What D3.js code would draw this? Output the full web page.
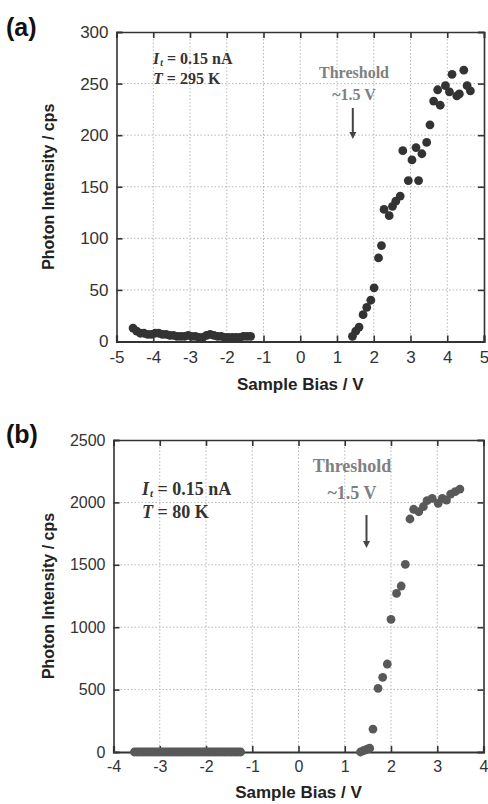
<!DOCTYPE html>
<html>
<head>
<meta charset="utf-8">
<script src="https://cdnjs.cloudflare.com/ajax/libs/d3/7.8.5/d3.min.js"></script>
<style>
body{margin:0;background:#fff;}
</style>
</head>
<body>
<script>
const w=488;
const h=804;

// panel (a) data, T = 295 K
const biasA_neg=[-4.55,-4.45,-4.35,-4.25,-4.15,-4.05,-3.95,-3.85,-3.75,-3.65,-3.55,-3.45,-3.35,-3.25,-3.15,-3.05,-2.95,-2.85,-2.75,-2.65,-2.55,-2.45,-2.35,-2.25,-2.15,-2.05,-1.95,-1.85,-1.75,-1.65,-1.55,-1.45,-1.35];
const countsA_neg=[13,10,8,8,7,7,8,8,7,7,6,6,5,5,5,6,5,5,4,4,6,7,6,5,5,4,4,4,4,4,5,5,5];
const biasA_pos=[1.42,1.51,1.60,1.71,1.81,1.92,2.01,2.13,2.21,2.28,2.42,2.51,2.60,2.72,2.79,2.94,3.04,3.15,3.22,3.31,3.44,3.53,3.63,3.74,3.81,3.95,4.06,4.13,4.26,4.33,4.45,4.54,4.63];
const countsA_pos=[5,10,14,26,33,40,52,81,93,128,122,131,136,141,185,156,176,188,156,182,193,210,233,244,229,248,242,259,238,240,263,248,243];

// panel (b) data, T = 80 K
const biasB_neg=[-3.55,-3.50,-3.45,-3.40,-3.35,-3.30,-3.25,-3.20,-3.15,-3.10,-3.05,-3.00,-2.95,-2.90,-2.85,-2.80,-2.75,-2.70,-2.65,-2.60,-2.55,-2.50,-2.45,-2.40,-2.35,-2.30,-2.25,-2.20,-2.15,-2.10,-2.05,-2.00,-1.95,-1.90,-1.85,-1.80,-1.75,-1.70,-1.65,-1.60,-1.55,-1.50,-1.45,-1.40,-1.35,-1.30,-1.25];
const countsB_neg=[0,0,0,0,0,0,0,0,0,0,0,0,0,0,0,0,0,0,0,0,0,0,0,0,0,0,0,0,0,0,0,0,0,0,0,0,0,0,0,0,0,0,0,0,0,0,0];
const biasB_pos=[1.34,1.40,1.45,1.50,1.54,1.61,1.72,1.82,1.92,2.00,2.12,2.22,2.31,2.41,2.49,2.60,2.70,2.78,2.89,3.02,3.11,3.20,3.29,3.39,3.49];
const countsB_pos=[0,10,16,25,30,184,510,598,705,1063,1271,1330,1504,1867,1945,1925,1966,2014,2033,1993,2033,2019,2067,2086,2107];

const ticksA_x=[-5,-4,-3,-2,-1,0,1,2,3,4,5];
const ticksA_y=[0,50,100,150,200,250,300];
const ticksB_x=[-4,-3,-2,-1,0,1,2,3,4];
const ticksB_y=[0,500,1000,1500,2000,2500];

let svg=d3.select("body")
  .append("svg")
  .attr("width",w)
  .attr("height",h);

function zip(xs,ys){ return xs.map((x,i)=>({v:x,c:ys[i]})); }

function drawPanel(p){
  let x=d3.scaleLinear().domain(p.xDomain).range([p.left,p.right]);
  let y=d3.scaleLinear().domain(p.yDomain).range([p.bottom,p.top]);
  let g=svg.append("g");

  // dotted grid
  g.append("g")
    .selectAll("line.gx")
    .data(p.xTicks.slice(1,-1))
    .enter().append("line")
    .attr("x1",d=>x(d)).attr("x2",d=>x(d))
    .attr("y1",p.top).attr("y2",p.bottom)
    .attr("stroke","#b8b8b8").attr("stroke-width",1)
    .attr("stroke-dasharray","1.5,2");
  g.append("g")
    .selectAll("line.gy")
    .data(p.yTicks.slice(1,-1))
    .enter().append("line")
    .attr("y1",d=>y(d)).attr("y2",d=>y(d))
    .attr("x1",p.left).attr("x2",p.right)
    .attr("stroke","#b8b8b8").attr("stroke-width",1)
    .attr("stroke-dasharray","1.5,2");

  // axes with inward ticks on all four sides
  let fmt=d=>String(d);
  let bottom=g.append("g").attr("transform","translate(0,"+p.bottom+")")
    .call(d3.axisBottom(x).tickValues(p.xTicks).tickSize(-6).tickPadding(6).tickFormat(fmt));
  let left=g.append("g").attr("transform","translate("+p.left+",0)")
    .call(d3.axisLeft(y).tickValues(p.yTicks).tickSize(-6).tickPadding(8).tickFormat(fmt));
  let top=g.append("g").attr("transform","translate(0,"+p.top+")")
    .call(d3.axisTop(x).tickValues(p.xTicks).tickSize(-6).tickFormat(""));
  let right=g.append("g").attr("transform","translate("+p.right+",0)")
    .call(d3.axisRight(y).tickValues(p.yTicks).tickSize(-6).tickFormat(""));

  [bottom,left,top,right].forEach(a=>{
    a.select(".domain").attr("stroke","#333").attr("stroke-width",1.6);
    a.selectAll(".tick line").attr("stroke","#333").attr("stroke-width",1.6);
    a.selectAll(".tick text")
      .attr("fill","#333")
      .style("font-family","'Liberation Sans', Arial, sans-serif")
      .style("font-size",p.tickFont+"px");
  });
  bottom.select(".domain").attr("stroke-width",2.2);
  bottom.selectAll(".tick text").attr("dy","0.9em");

  // data points
  g.append("g")
    .selectAll("circle")
    .data(zip(p.negX,p.negY).concat(zip(p.posX,p.posY)))
    .enter().append("circle")
    .attr("cx",d=>x(d.v))
    .attr("cy",d=>y(d.c))
    .attr("r",4.4)
    .style("fill",p.dotColor);

  // axis titles
  g.append("text")
    .attr("x",(p.left+p.right)/2).attr("y",p.xTitleY)
    .attr("text-anchor","middle")
    .style("font-family","'Liberation Sans', Arial, sans-serif")
    .style("font-weight","bold").style("font-size","17px")
    .attr("fill","#222")
    .text("Sample Bias / V");
  g.append("text")
    .attr("transform","translate(54,"+((p.top+p.bottom)/2)+") rotate(-90)")
    .attr("text-anchor","middle")
    .style("font-family","'Liberation Sans', Arial, sans-serif")
    .style("font-weight","bold").style("font-size","16px")
    .attr("fill","#222")
    .text("Photon Intensity / cps");

  // panel label
  g.append("text")
    .attr("x",6).attr("y",p.labelY)
    .style("font-family","'Liberation Sans', Arial, sans-serif")
    .style("font-weight","bold").style("font-size","25px")
    .attr("fill","#111")
    .text(p.label);

  // conditions
  let serif="'Liberation Serif', 'Times New Roman', serif";
  let t1=g.append("text")
    .attr("x",p.condX).attr("y",p.condY)
    .style("font-family",serif).style("font-weight","bold")
    .style("font-size",p.condFont+"px").attr("fill","#333");
  t1.append("tspan").style("font-style","italic").text("I");
  t1.append("tspan").style("font-style","italic").style("font-size",(p.condFont*0.6)+"px").attr("dx",1).attr("dy",2).text("t");
  t1.append("tspan").attr("dy",-2).text(" = 0.15 nA");
  let t2=g.append("text")
    .attr("x",p.condX).attr("y",p.condY+p.condGap)
    .style("font-family",serif).style("font-weight","bold")
    .style("font-size",p.condFont+"px").attr("fill","#333");
  t2.append("tspan").style("font-style","italic").text("T");
  t2.append("tspan").text(" = "+p.temp);

  // threshold annotation
  g.append("text")
    .attr("x",p.thrX).attr("y",p.thrY)
    .attr("text-anchor","middle")
    .style("font-family",serif).style("font-weight","bold")
    .style("font-size",p.condFont+"px").attr("fill","#808080")
    .text("Threshold");
  g.append("text")
    .attr("x",p.thrX).attr("y",p.thrY+p.thrGap)
    .attr("text-anchor","middle")
    .style("font-family",serif).style("font-weight","bold")
    .style("font-size",p.condFont+"px").attr("fill","#808080")
    .text("~1.5 V");
  let ax=x(p.arrowV);
  g.append("line")
    .attr("x1",ax).attr("x2",ax)
    .attr("y1",p.arrowTop).attr("y2",p.arrowBottom-5)
    .attr("stroke","#444").attr("stroke-width",2);
  g.append("path")
    .attr("d","M"+(ax-3.5)+","+(p.arrowBottom-7)+" L"+(ax+3.5)+","+(p.arrowBottom-7)+" L"+ax+","+p.arrowBottom+" Z")
    .attr("fill","#444");
}

drawPanel({
  label:"(a)", labelY:36,
  xDomain:[-5,5], yDomain:[0,300],
  left:116.5, right:484, top:32, bottom:341.5,
  xTicks:ticksA_x, yTicks:ticksA_y, tickFont:17,
  negX:biasA_neg, negY:countsA_neg, posX:biasA_pos, posY:countsA_pos,
  dotColor:"#333",
  xTitleY:390,
  condX:153, condY:64, condGap:19.5, condFont:16, temp:"295 K",
  thrX:354, thrY:78, thrGap:22,
  arrowV:1.43, arrowTop:108, arrowBottom:139
});

drawPanel({
  label:"(b)", labelY:443,
  xDomain:[-4,4], yDomain:[0,2500],
  left:113.5, right:483.5, top:440, bottom:752,
  xTicks:ticksB_x, yTicks:ticksB_y, tickFont:16,
  negX:biasB_neg, negY:countsB_neg, posX:biasB_pos, posY:countsB_pos,
  dotColor:"#595959",
  xTitleY:798,
  condX:142, condY:495, condGap:23, condFont:18, temp:"80 K",
  thrX:352, thrY:472, thrGap:27,
  arrowV:1.47, arrowTop:515, arrowBottom:548
});
</script>
</body>
</html>
